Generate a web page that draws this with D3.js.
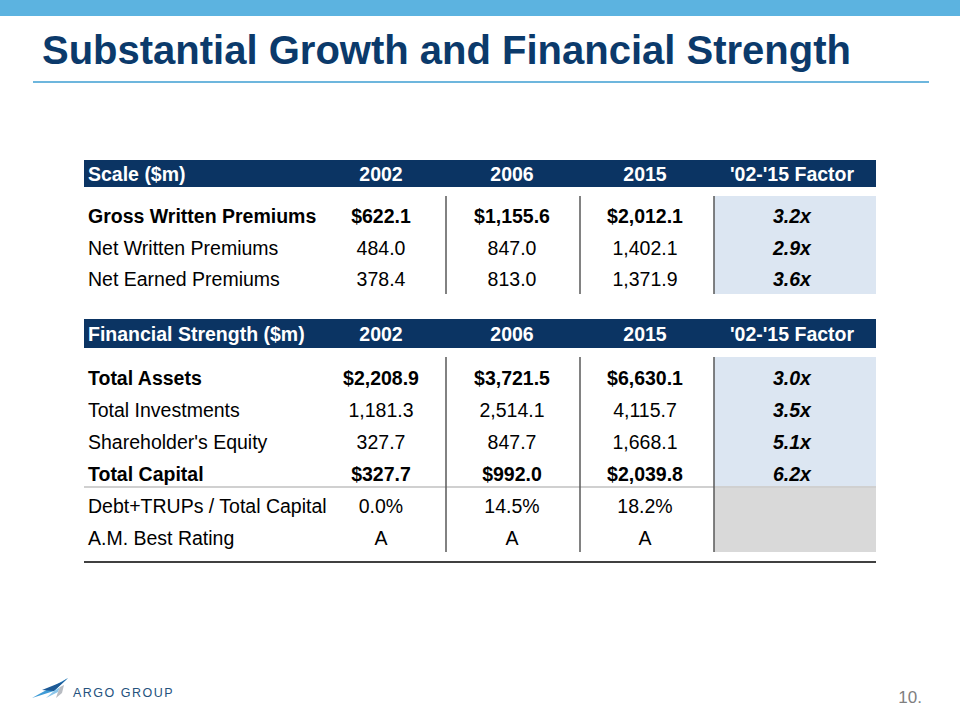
<!DOCTYPE html>
<html>
<head>
<meta charset="utf-8">
<script src="https://cdn.jsdelivr.net/npm/d3@7"></script>
<style>
  html, body { margin: 0; padding: 0; background: #fff; }
  svg { display: block; font-family: "Liberation Sans", Arial, sans-serif; }
</style>
</head>
<body>
<svg id="chart" width="960" height="720"></svg>
<script>
// ---------- DATA ----------
const titleText = "Substantial Growth and Financial Strength";
const yearCols = ["2002", "2006", "2015"];
const factorHeader = "'02-'15 Factor";

const scaleHeader = "Scale ($m)";
const scaleRows = ["Gross Written Premiums", "Net Written Premiums", "Net Earned Premiums"];
const scaleBold = [true, false, false];
const scale2002 = [622.1, 484.0, 378.4];
const scale2006 = [1155.6, 847.0, 813.0];
const scale2015 = [2012.1, 1402.1, 1371.9];
const scaleFactor = [3.2, 2.9, 3.6];

const strengthHeader = "Financial Strength ($m)";
const strengthRows = ["Total Assets", "Total Investments", "Shareholder's Equity", "Total Capital"];
const strengthBold = [true, false, false, true];
const strength2002 = [2208.9, 1181.3, 327.7, 327.7];
const strength2006 = [3721.5, 2514.1, 847.7, 992.0];
const strength2015 = [6630.1, 4115.7, 1668.1, 2039.8];
const strengthFactor = [3.0, 3.5, 5.1, 6.2];

const debtLabel = "Debt+TRUPs / Total Capital";
const debtPct = [0.0, 14.5, 18.2];
const ratingLabel = "A.M. Best Rating";
const ratings = ["A", "A", "A"];

const pageNumber = "10.";
const logoText = "ARGO GROUP";

// ---------- STYLE ----------
const navy = "#0B3463";
const titleColor = "#0B3A6B";
const lightBlue = "#DCE6F2";
const grayFill = "#D9D9D9";
const sepColor = "#595959";
const fmtNum = d3.format(",.1f");

const svg = d3.select("#chart");

// top band
svg.append("rect").attr("x", 0).attr("y", 0).attr("width", 960).attr("height", 16).attr("fill", "#5CB3E0");
// title
svg.append("text").attr("x", 42).attr("y", 64).attr("font-size", 40).attr("font-weight", "bold")
  .attr("fill", titleColor).text(titleText);
svg.append("line").attr("x1", 33).attr("x2", 929).attr("y1", 82).attr("y2", 82)
  .attr("stroke", "#6DB6DD").attr("stroke-width", 2);

// column scale
const colKeys = ["label", ...yearCols, "factor"];
const x = d3.scaleOrdinal().domain(colKeys).range([88, 381, 512, 645, 792]);
const sepX = [446, 580, 714];
const tableLeft = 84, tableRight = 876;

function header(y0, y1, label) {
  svg.append("rect").attr("x", tableLeft).attr("y", y0).attr("width", tableRight - tableLeft)
    .attr("height", y1 - y0).attr("fill", navy);
  const cy = (y0 + y1) / 2;
  const g = svg.append("g").attr("font-size", 19.5).attr("font-weight", "bold").attr("fill", "#fff");
  g.append("text").attr("x", x("label")).attr("y", cy).attr("dy", "0.36em").text(label);
  yearCols.forEach(c => g.append("text").attr("x", x(c)).attr("y", cy).attr("dy", "0.36em")
    .attr("text-anchor", "middle").text(c));
  g.append("text").attr("x", x("factor")).attr("y", cy).attr("dy", "0.36em")
    .attr("text-anchor", "middle").text(factorHeader);
}

function rowText(y, label, vals, factor, bold) {
  const g = svg.append("g").attr("font-size", 19.5).attr("fill", "#000")
    .attr("font-weight", bold ? "bold" : "normal");
  g.append("text").attr("x", x("label")).attr("y", y).attr("dy", "0.36em").text(label);
  vals.forEach((v, i) => g.append("text").attr("x", x(yearCols[i])).attr("y", y).attr("dy", "0.36em")
    .attr("text-anchor", "middle").text(v));
  if (factor !== null) {
    g.append("text").attr("x", x("factor")).attr("y", y).attr("dy", "0.36em")
      .attr("text-anchor", "middle").attr("font-weight", "bold").attr("font-style", "italic")
      .text(factor);
  }
}

// ---------- TABLE 1 ----------
header(160, 187, scaleHeader);
const y1 = d3.scaleBand().domain(d3.range(scaleRows.length)).range([200, 295]);
svg.append("rect").attr("x", sepX[2]).attr("y", 196).attr("width", tableRight - sepX[2])
  .attr("height", 98).attr("fill", lightBlue);
sepX.forEach(sx => svg.append("line").attr("x1", sx).attr("x2", sx).attr("y1", 196).attr("y2", 294)
  .attr("stroke", sepColor).attr("stroke-width", 1.5));
scaleRows.forEach((r, i) => {
  const pre = scaleBold[i] ? "$" : "";
  const vals = [scale2002[i], scale2006[i], scale2015[i]].map(v => pre + fmtNum(v));
  rowText(y1(i) + y1.bandwidth() / 2, r, vals, d3.format(".1f")(scaleFactor[i]) + "x", scaleBold[i]);
});

// ---------- TABLE 2 ----------
header(319, 348, strengthHeader);
const allRows2 = [...strengthRows, debtLabel, ratingLabel];
const y2 = d3.scaleBand().domain(d3.range(allRows2.length)).range([362, 554]);
svg.append("rect").attr("x", sepX[2]).attr("y", 357).attr("width", tableRight - sepX[2])
  .attr("height", 130).attr("fill", lightBlue);
svg.append("rect").attr("x", sepX[2]).attr("y", 487).attr("width", tableRight - sepX[2])
  .attr("height", 65).attr("fill", grayFill);
svg.append("line").attr("x1", tableLeft).attr("x2", tableRight).attr("y1", 487).attr("y2", 487)
  .attr("stroke", "#D0D0D0").attr("stroke-width", 2);
sepX.forEach(sx => svg.append("line").attr("x1", sx).attr("x2", sx).attr("y1", 357).attr("y2", 552)
  .attr("stroke", sepColor).attr("stroke-width", 1.5));
strengthRows.forEach((r, i) => {
  const pre = strengthBold[i] ? "$" : "";
  const vals = [strength2002[i], strength2006[i], strength2015[i]].map(v => pre + fmtNum(v));
  rowText(y2(i) + y2.bandwidth() / 2, r, vals, d3.format(".1f")(strengthFactor[i]) + "x", strengthBold[i]);
});
rowText(y2(4) + y2.bandwidth() / 2, debtLabel, debtPct.map(v => d3.format(".1f")(v) + "%"), null, false);
rowText(y2(5) + y2.bandwidth() / 2, ratingLabel, ratings, null, false);
svg.append("line").attr("x1", tableLeft).attr("x2", tableRight).attr("y1", 562).attr("y2", 562)
  .attr("stroke", "#404040").attr("stroke-width", 2);

// ---------- FOOTER ----------
const logo = svg.append("g").attr("transform", "translate(32,678)");
logo.append("path").attr("d", "M0,20 L22,13 L36,0 Z").attr("fill", "#3E9BD6");
logo.append("path").attr("d", "M10,12 L30,4 L36,0 L22,13 Z").attr("fill", "#1D5A96");
logo.append("path").attr("d", "M14,20 L26,14 L28,9 L22,13 Z").attr("fill", "#8BC6EA");
logo.append("path").attr("d", "M24,20 L30,15 L32,7 L28,9 L26,14 Z").attr("fill", "#B8BCC2");
svg.append("text").attr("x", 73).attr("y", 697).attr("font-size", 12.5).attr("letter-spacing", 1.5)
  .attr("fill", "#24527D").text(logoText);
svg.append("text").attr("x", 922).attr("y", 703).attr("text-anchor", "end").attr("font-size", 17)
  .attr("fill", "#808080").text(pageNumber);
</script>
</body>
</html>
